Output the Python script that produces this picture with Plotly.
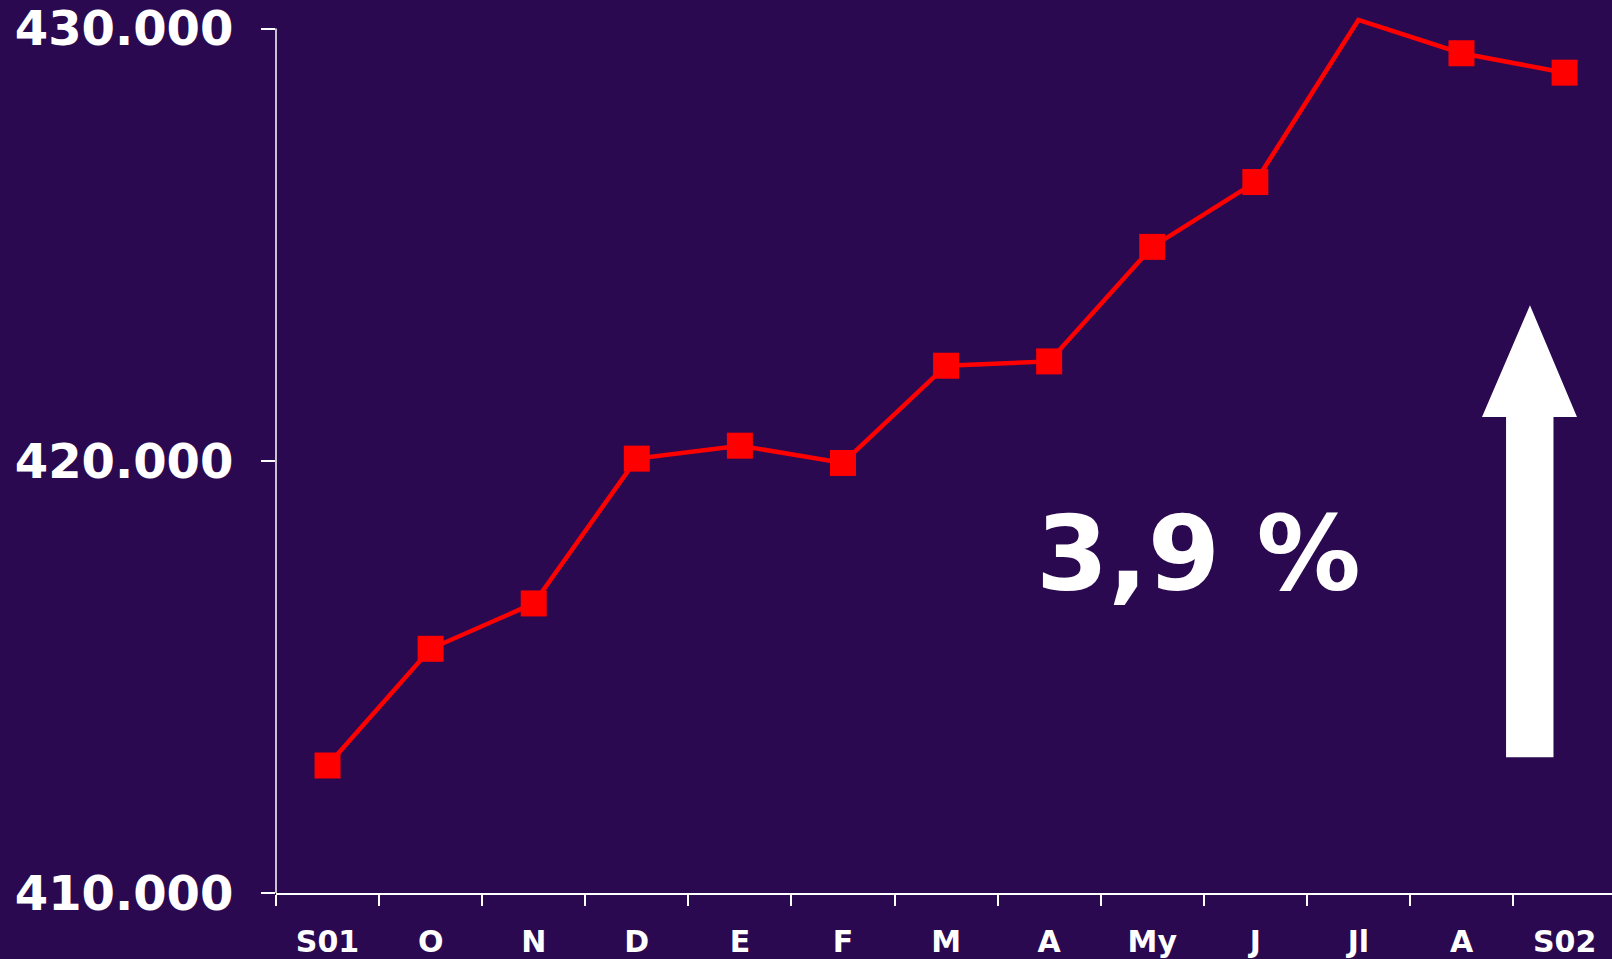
import plotly.graph_objects as go

# monthly series, Sept 2001 -> Sept 2002
months = ["S01", "O", "N", "D", "E", "F", "M", "A", "My", "J", "Jl", "A", "S02"]
values = [412950, 415650, 416700, 420050, 420350, 419950, 422200, 422300,
          424950, 426450, 430200, 429430, 428980]
# Jl marker falls outside the plot box and is not drawn in the original
show_marker = [True] * 10 + [False] + [True] * 2

y_ticks = [410000, 420000, 430000]
y_ticktext = ["410.000", "420.000", "430.000"]
growth_label = "3,9 %"

BG = "#2A0950"
W, H = 1612, 959
ML, MR, MT, MB = 276, 0, 7, 64

x_idx = list(range(len(months)))
x_bounds = [i - 0.5 for i in range(len(months) + 1)]

fig = go.Figure()
fig.add_trace(go.Scatter(
    x=x_idx, y=values, mode="lines",
    line=dict(color="#FF0000", width=4.5),
    hoverinfo="skip", showlegend=False,
))
fig.add_trace(go.Scatter(
    x=[x for x, s in zip(x_idx, show_marker) if s],
    y=[v for v, s in zip(values, show_marker) if s],
    mode="markers",
    marker=dict(symbol="square", size=26, color="#FF0000", line=dict(width=0)),
    showlegend=False,
))

def px2paper(px, py):
    pw = W - ML - MR
    ph = H - MT - MB
    return (px - ML) / pw, (H - MB - py) / ph

# big white arrow on the right
pts = [(1530, 306), (1577, 418), (1553.5, 418), (1553.5, 759),
       (1506, 759), (1506, 418), (1482, 418)]
pp = [px2paper(*p) for p in pts]
path = "M " + " L ".join(f"{x:.4f},{y:.4f}" for x, y in pp) + " Z"
fig.add_shape(type="path", path=path, xref="paper", yref="paper",
              fillcolor="white", line=dict(width=0), layer="above")

# y axis line only spans the labelled range
fig.add_shape(type="line", xref="paper", yref="y", x0=0, x1=0,
              y0=y_ticks[0], y1=y_ticks[-1], line=dict(color="white", width=1.5))

tx, ty = px2paper(1198, 555)
fig.add_annotation(text=growth_label, x=tx, y=ty, xref="paper", yref="paper",
                   xanchor="center", yanchor="middle", showarrow=False,
                   font=dict(family="DejaVu Sans", size=104, color="white", weight="bold"))

fig.update_layout(
    width=W, height=H,
    margin=dict(l=ML, r=MR, t=MT, b=MB),
    paper_bgcolor=BG, plot_bgcolor=BG,
    font=dict(family="DejaVu Sans", color="white"),
    showlegend=False,
)
fig.update_xaxes(
    tickmode="array", tickvals=x_idx, ticktext=months,
    range=[-0.5, 12.46], ticks="",
    minor=dict(tickmode="array", tickvals=x_bounds, ticks="outside",
               ticklen=11, tickwidth=1.5, tickcolor="white", showgrid=False),
    showline=True, linecolor="white", linewidth=2,
    showgrid=False, zeroline=False,
    tickfont=dict(family="DejaVu Sans", size=30, color="white", weight="bold"),
    ticklabelstandoff=21,
)
fig.update_yaxes(
    range=[410000, 430500],
    tickmode="array", tickvals=y_ticks, ticktext=y_ticktext,
    ticks="outside", ticklen=14, tickwidth=1.5, tickcolor="white",
    showline=False, showgrid=False, zeroline=False,
    tickfont=dict(family="DejaVu Sans", size=48, color="white", weight="bold"),
    ticklabelstandoff=18,
)

fig.write_html("out.html", config={"displayModeBar": False},
               post_script="document.body.style.margin='0';")
